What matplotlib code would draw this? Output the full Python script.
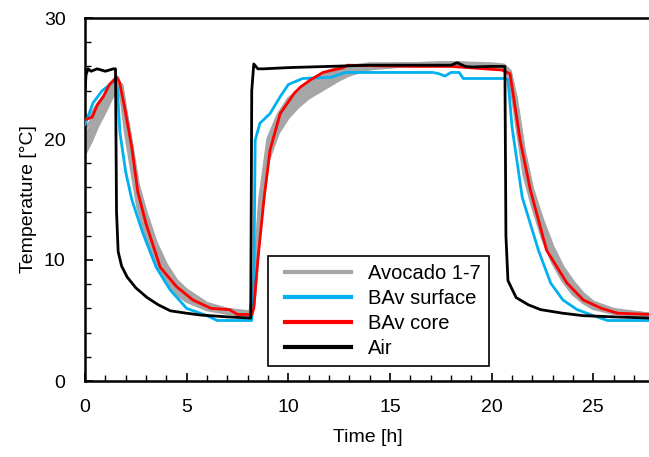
import matplotlib
matplotlib.use("Agg")
import matplotlib.pyplot as plt
from matplotlib.ticker import MultipleLocator
from matplotlib.lines import Line2D
from matplotlib.legend_handler import HandlerLine2D

plt.rcParams['font.family'] = ['Liberation Sans', 'DejaVu Sans']

# ---- data ----
# Avocado 1-7 (gray), shared time grid
t_gray = [0, 0.3, 0.6, 1.0, 1.4, 1.6, 1.8, 2.0, 2.3, 2.6, 3.0, 3.5, 4.0, 4.5, 5.0, 6.0, 7.0, 8.1,
          8.3, 8.6, 9.0, 9.5, 10.0, 10.5, 11.0, 11.5, 12.0, 12.5, 13.0, 14.0, 16.0, 18.0, 20.0, 20.6,
          20.9, 21.2, 21.6, 22.0, 22.5, 23.0, 23.5, 24.0, 24.5, 25.0, 26.0, 27.8]
avocado1 = [21.5, 22.0, 22.8, 23.7, 24.7, 25.1, 23.2, 20.5, 17.4, 14.4, 12.1, 9.6, 8.1, 7.2, 6.6, 5.9, 5.6, 5.4,
            8.0, 15.0, 20.0, 22.0, 23.3, 24.0, 24.7, 25.2, 25.6, 25.9, 26.0, 26.2, 26.2, 26.2, 26.1, 26.0,
            25.0, 21.5, 17.0, 14.5, 11.8, 9.8, 8.3, 7.2, 6.5, 6.0, 5.6, 5.4]
avocado2 = [20.8, 21.5, 22.4, 23.4, 24.5, 25.0, 23.6, 21.0, 18.0, 14.9, 12.6, 10.1, 8.5, 7.5, 6.8, 6.0, 5.7, 5.5,
            7.5, 14.5, 19.6, 21.7, 23.0, 23.8, 24.5, 25.0, 25.4, 25.7, 25.9, 26.1, 26.2, 26.3, 26.1, 26.0,
            25.2, 22.0, 17.5, 14.8, 12.1, 10.1, 8.5, 7.4, 6.6, 6.1, 5.7, 5.4]
avocado3 = [20.2, 21.0, 22.0, 23.1, 24.3, 24.9, 23.9, 21.5, 18.5, 15.3, 13.0, 10.5, 8.8, 7.7, 7.0, 6.1, 5.7, 5.5,
            7.0, 14.0, 19.2, 21.4, 22.7, 23.5, 24.2, 24.7, 25.1, 25.5, 25.8, 26.1, 26.2, 26.2, 26.0, 25.9,
            25.3, 22.4, 18.0, 15.0, 12.4, 10.3, 8.7, 7.6, 6.8, 6.2, 5.7, 5.4]
avocado4 = [19.7, 20.6, 21.6, 22.8, 24.1, 24.8, 24.1, 21.8, 18.9, 15.6, 13.3, 10.8, 9.1, 7.9, 7.1, 6.2, 5.8, 5.6,
            6.8, 13.6, 18.9, 21.1, 22.4, 23.3, 24.0, 24.5, 24.9, 25.3, 25.6, 26.0, 26.2, 26.2, 26.1, 26.0,
            25.4, 22.8, 18.3, 15.3, 12.7, 10.6, 9.0, 7.8, 6.9, 6.3, 5.8, 5.5]
avocado5 = [19.2, 20.2, 21.3, 22.6, 23.9, 24.7, 24.3, 22.1, 19.2, 15.9, 13.6, 11.1, 9.3, 8.1, 7.3, 6.3, 5.9, 5.6,
            6.5, 13.2, 18.6, 20.8, 22.1, 23.0, 23.7, 24.2, 24.7, 25.1, 25.5, 25.9, 26.1, 26.2, 26.0, 26.0,
            25.5, 23.1, 18.7, 15.6, 13.0, 10.8, 9.2, 8.0, 7.1, 6.4, 5.8, 5.5]
avocado6 = [18.8, 19.8, 21.0, 22.3, 23.7, 24.5, 24.5, 22.4, 19.5, 16.3, 13.9, 11.4, 9.6, 8.3, 7.5, 6.4, 5.9, 5.7,
            6.3, 12.8, 18.2, 20.5, 21.8, 22.7, 23.4, 23.9, 24.4, 24.9, 25.3, 25.8, 26.1, 26.3, 26.1, 26.0,
            25.6, 23.4, 19.0, 15.9, 13.3, 11.1, 9.4, 8.2, 7.2, 6.5, 5.9, 5.5]
avocado7 = [19.0, 20.0, 21.2, 22.5, 23.8, 24.6, 24.4, 22.2, 19.3, 16.1, 13.8, 11.2, 9.4, 8.2, 7.4, 6.3, 5.9, 5.6,
            6.4, 13.0, 18.4, 20.6, 21.9, 22.8, 23.5, 24.0, 24.5, 25.0, 25.4, 25.9, 26.2, 26.3, 26.2, 26.1,
            25.6, 23.2, 18.8, 15.7, 13.1, 10.9, 9.3, 8.1, 7.1, 6.4, 5.8, 5.5]
avocados = [avocado1, avocado2, avocado3, avocado4, avocado5, avocado6, avocado7]

# BAv surface (blue)
t_surface = [0, 0.4, 0.85, 1.3, 1.5, 1.6, 1.72, 2.0, 2.3, 2.85, 3.5, 4.2, 5.0, 5.5, 6.0, 6.5, 8.2, 8.3, 8.37,
             8.6, 9.1, 9.6, 10.0, 10.7, 12.1, 12.8, 17.1, 17.4, 17.7, 18.0, 18.4, 18.6, 20.7, 20.8, 21.0,
             21.5, 22.3, 22.9, 23.5, 24.2, 25.0, 25.7, 27.8]
bav_surface = [21.2, 23.0, 24.0, 24.6, 25.0, 24.0, 20.5, 17.3, 15.0, 12.2, 9.4, 7.5, 6.0, 5.7, 5.4, 5.0, 5.0, 8.0, 19.9,
               21.3, 22.1, 23.5, 24.5, 25.0, 25.1, 25.5, 25.5, 25.4, 25.2, 25.5, 25.5, 25.0, 25.0, 24.9, 21.0,
               15.2, 10.8, 8.1, 6.7, 5.9, 5.4, 5.0, 5.0]

# BAv core (red)
t_core = [0, 0.35, 0.6, 0.9, 1.2, 1.55, 1.7, 1.97, 2.3, 2.6, 3.0, 3.7, 4.5, 5.3, 6.2, 7.1, 7.5, 8.2, 8.3, 8.5,
          8.8, 9.1, 9.6, 10.3, 10.6, 11.1, 11.7, 12.7, 12.9, 16.0, 18.0, 20.5, 20.9, 21.4, 21.9, 22.7, 23.7,
          24.5, 25.4, 26.2, 27.8]
bav_core = [21.6, 21.8, 22.8, 23.5, 24.5, 25.1, 24.7, 22.4, 19.3, 15.6, 13.0, 9.4, 7.8, 6.7, 6.0, 5.9, 5.5, 5.5, 6.0, 10.0,
            15.0, 19.1, 22.1, 23.8, 24.3, 24.9, 25.5, 25.9, 26.1, 26.0, 26.0, 25.7, 25.4, 19.9, 15.8, 10.8, 8.1,
            6.7, 6.0, 5.6, 5.5]

# Air (black)
t_air = [0, 0.05, 0.15, 0.3, 0.6, 1.0, 1.4, 1.5, 1.55, 1.63, 1.8, 2.07, 2.5, 3.05, 3.6, 4.2, 5.0, 5.7, 7.0, 8.15,
         8.2, 8.3, 8.5, 8.8, 10.0, 12.0, 14.0, 16.0, 18.0, 18.3, 18.7, 19.0, 20.0, 20.65, 20.7, 20.8, 21.2,
         21.8, 22.4, 23.5, 24.5, 26.0, 27.8]
air = [24.0, 25.3, 25.8, 25.6, 25.8, 25.6, 25.8, 25.8, 14.0, 10.7, 9.5, 8.6, 7.7, 6.9, 6.3, 5.8, 5.6, 5.45, 5.3, 5.2,
       24.0, 26.2, 25.8, 25.8, 25.9, 26.0, 26.1, 26.1, 26.1, 26.3, 26.0, 25.95, 26.0, 26.0, 12.0, 8.3, 6.9,
       6.3, 5.9, 5.6, 5.4, 5.3, 5.2]

labels = ["Avocado 1-7", "BAv surface", "BAv core", "Air"]
x_ticks = [0, 5, 10, 15, 20, 25]
y_ticks = [0, 10, 20, 30]

# ---- figure ----
fig = plt.figure(figsize=(6.49, 4.57), dpi=100)
ax = fig.add_axes([85/649, 76/457, 1 - 85/649 + 0.002, 363/457])

gray_c, blue_c, red_c, black_c = "#A6A6A6", "#00B0F0", "#FF0000", "#000000"
for i, g in enumerate(avocados):
    ax.plot(t_gray, g, color=gray_c, lw=2.5, label=labels[0] if i == 0 else None, zorder=2)
ax.plot(t_surface, bav_surface, color=blue_c, lw=2.0, label=labels[1], zorder=3)
ax.plot(t_core, bav_core, color=red_c, lw=2.0, label=labels[2], zorder=4)
ax.plot(t_air, air, color=black_c, lw=2.0, label=labels[3], zorder=5)

ax.set_xlim(0, 27.8)
ax.set_ylim(0, 30)
ax.set_xticks(x_ticks)
ax.set_yticks(y_ticks)
ax.xaxis.set_minor_locator(MultipleLocator(1))
ax.yaxis.set_minor_locator(MultipleLocator(2))
ax.tick_params(which='major', direction='in', length=6, width=1.2, labelsize=14)
ax.tick_params(which='minor', direction='in', length=4, width=1.0)
ax.tick_params(axis='x', which='major', pad=13)
ax.tick_params(axis='y', which='major', pad=14)

for s in ['left', 'bottom', 'top']:
    ax.spines[s].set_linewidth(1.8)
ax.spines['right'].set_visible(False)

ax.set_xlabel("Time [h]", fontsize=14, labelpad=9)
ax.set_ylabel("Temperature [°C]", fontsize=14, labelpad=5)

leg = ax.legend(loc='lower left', bbox_to_anchor=(0.324, 0.041), borderaxespad=0,
                fontsize=14.5, frameon=True, fancybox=False, framealpha=1,
                edgecolor='black', handlelength=3.7, handletextpad=0.85,
                labelspacing=0.3, borderpad=0.4,
                handler_map={Line2D: HandlerLine2D(xpad=0.45)})
leg.get_frame().set_linewidth(1.2)
for line in leg.get_lines():
    line.set_linewidth(3)

fig.savefig("out.png", dpi=100)
